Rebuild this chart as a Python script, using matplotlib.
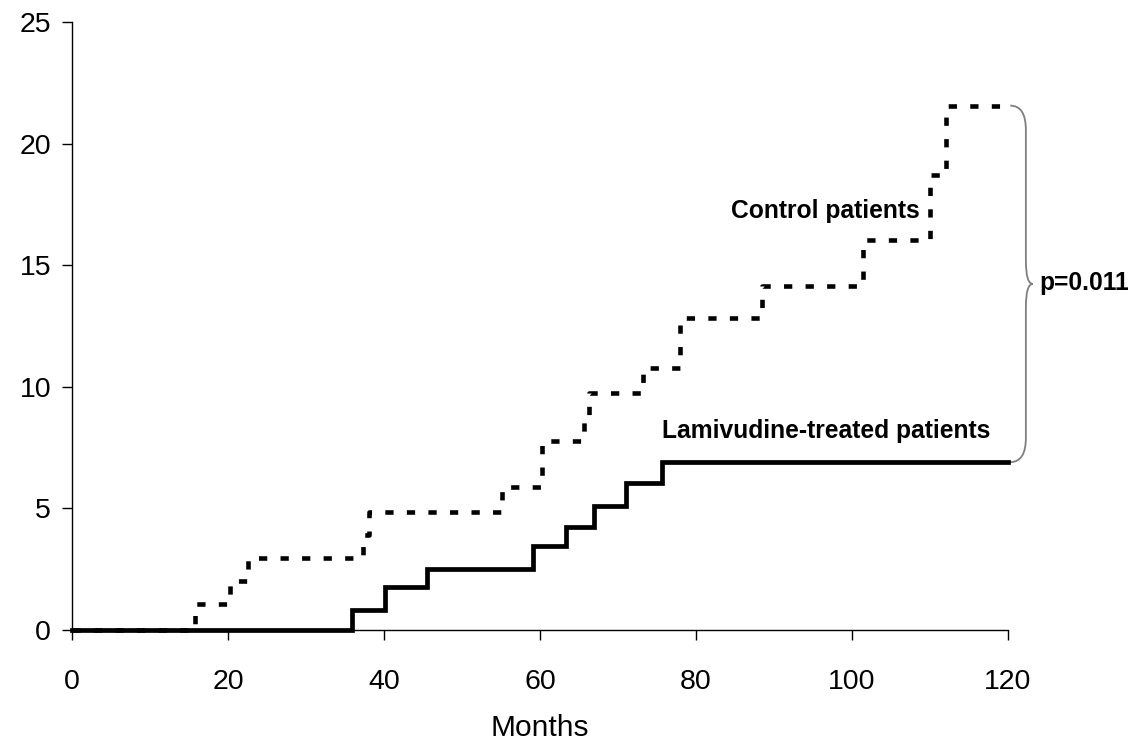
import numpy as np
import matplotlib
matplotlib.use('Agg')
import matplotlib.pyplot as plt
from matplotlib.path import Path
from matplotlib.patches import PathPatch

plt.rcParams['font.family'] = ['Liberation Sans', 'DejaVu Sans']

# cumulative incidence (%), step after each time
control_t = [0, 15.8, 20.3, 22.6, 37.3, 38.1, 55.2, 60.3, 65.7, 66.3, 73.2, 78.0, 88.5, 101.4, 110.0, 112.1, 120]
control_v = [0, 1.07, 2.0, 2.96, 3.9, 4.84, 5.88, 7.78, 8.8, 9.73, 10.76, 12.81, 14.14, 16.04, 18.7, 21.56, 21.56]

treated_t = [0, 35.9, 40.1, 45.5, 59.1, 63.3, 66.9, 71.0, 75.6, 120]
treated_v = [0, 0.82, 1.75, 2.51, 3.47, 4.25, 5.1, 6.03, 6.9, 6.9]

xticks = [0, 20, 40, 60, 80, 100, 120]
yticks = [0, 5, 10, 15, 20, 25]
p_text = 'p=0.011'

fig = plt.figure(figsize=(11.42, 7.42), dpi=100)
ax = fig.add_axes([0.063, 0.151, 0.8196, 0.8194])

ax.step(control_t, control_v, where='post', color='black', lw=3.3,
        linestyle=(0, (1.8, 2.9)), dash_capstyle='butt', clip_on=False)
ax.step(treated_t, treated_v, where='post', color='black', lw=3.4,
        solid_joinstyle='miter', clip_on=False)

ax.set_xlim(0, 120)
ax.set_ylim(0, 25)
ax.set_xticks(xticks)
ax.set_yticks(yticks)
ax.spines['top'].set_visible(False)
ax.spines['right'].set_visible(False)
for s in ['left', 'bottom']:
    ax.spines[s].set_linewidth(1.0)
ax.tick_params(axis='both', direction='out', length=7, width=1.0, labelsize=20.5)
ax.tick_params(axis='x', pad=21)
ax.tick_params(axis='y', pad=8)
ax.set_xlabel('Months', fontsize=21.5, labelpad=14)

ax.text(108.7, 16.93, 'Control patients', ha='right', va='baseline',
        fontsize=17.7, fontweight='bold')
ax.text(75.6, 7.88, 'Lamivudine-treated patients', ha='left', va='baseline',
        fontsize=17.7, fontweight='bold')

# brace between the two curve ends
top, bot = control_v[-1], treated_v[-1]
mid = (top + bot) / 2
x0, x1, x2 = 120.3, 122.3, 123.2
verts = [(x0, top), (x1, top), (x1, top - 1.0),
         (x1, mid + 0.95), (x1, mid), (x2, mid),
         (x1, mid), (x1, mid - 0.95),
         (x1, bot + 1.0), (x1, bot), (x0, bot)]
codes = [Path.MOVETO, Path.CURVE3, Path.CURVE3,
         Path.LINETO, Path.CURVE3, Path.CURVE3,
         Path.CURVE3, Path.CURVE3,
         Path.LINETO, Path.CURVE3, Path.CURVE3]
brace = PathPatch(Path(verts, codes), fill=False, edgecolor='#7f7f7f', lw=1.3, clip_on=False)
ax.add_patch(brace)
ax.text(124.0, 13.98, p_text, ha='left', va='baseline', fontsize=17.7, fontweight='bold')

fig.savefig('out.png', dpi=100)
